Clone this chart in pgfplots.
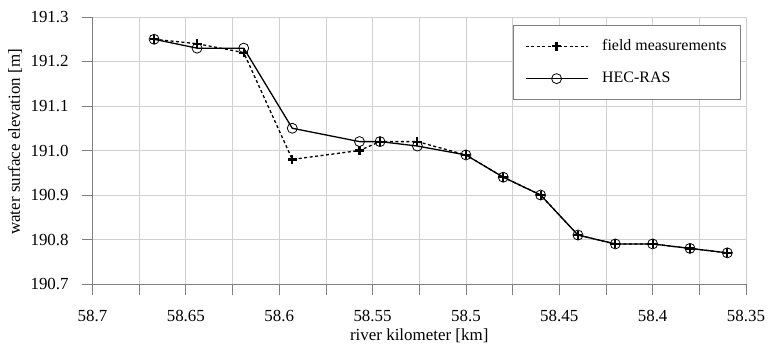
\documentclass[border=0pt]{standalone}
\usepackage{fontspec}
\setmainfont{Liberation Serif}
\usepackage{pgfplots}
\pgfplotsset{compat=1.18}
\definecolor{axgray}{HTML}{808080}
\definecolor{gridgray}{HTML}{D0D0D0}
\begin{document}
\fontsize{17}{20}\selectfont
\begin{tikzpicture}
\useasboundingbox (-92.5bp,-62bp) rectangle (675.5bp,284bp);
\begin{axis}[
  at={(0,0)}, anchor=south west,
  scale only axis, width=653.5bp, height=267bp,
  x dir=reverse,
  xmin=58.35, xmax=58.7, ymin=190.7, ymax=191.3,
  /pgf/number format/assume math mode=true,
  xtick={58.35,58.4,58.45,58.5,58.55,58.6,58.65,58.7},
  xticklabels={58.35,58.4,58.45,58.5,58.55,58.6,58.65,58.7},
  minor xtick={58.375,58.425,58.475,58.525,58.575,58.625,58.675},
  ytick={190.7,190.8,190.9,191.0,191.1,191.2,191.3},
  yticklabels={190.7,190.8,190.9,191.0,191.1,191.2,191.3},
  axis lines*=left,
  axis line style={axgray, line width=0.7pt},
  tick align=outside,
  major tick length=11bp, minor tick length=11bp,
  tick style={axgray, line width=0.7pt},
  grid=both,
  major grid style={gridgray, line width=0.7pt},
  minor grid style={gridgray, line width=0.7pt},
  ticklabel style={font=\fontsize{17}{20}\selectfont},
  xticklabel style={anchor=base, yshift=-27bp},
  yticklabel style={anchor=east, xshift=-7bp},
  xlabel={river kilometer [km]},
  ylabel={water surface elevation [m]},
  label style={font=\fontsize{17}{20}\selectfont},
  xlabel style={at={(axis description cs:0.5,-0.21)}, anchor=base},
  ylabel style={at={(axis description cs:-0.1186,0.532)}, anchor=center},
  legend style={at={(axis description cs:0.9923,0.97)}, anchor=north east,
    draw=axgray, line width=0.7pt, fill=white,
    font=\fontsize{16}{19}\selectfont,
    inner xsep=12bp, inner ysep=12bp,
    row sep=15bp,
    /tikz/every odd column/.append style={column sep=12bp}},
  legend cell align=left,
  legend image code/.code={%
    \draw[mark repeat=2,mark phase=2] plot coordinates {(0bp,0bp) (31bp,0bp) (62bp,0bp)};},
]
\addplot[black, line width=1.3bp, dash pattern=on 3bp off 2.5bp,
  mark=+, mark size=4.5bp, mark options={solid, line width=2.2bp}]
  coordinates {
  (58.667,191.25) (58.644,191.24) (58.619,191.22) (58.593,190.98)
  (58.557,191.00) (58.546,191.02) (58.526,191.02) (58.500,190.99)
  (58.480,190.94) (58.460,190.90) (58.440,190.81) (58.420,190.79)
  (58.400,190.79) (58.380,190.78) (58.360,190.77)};
\addlegendentry{field measurements}
\addplot[black, line width=1.3bp,
  mark=o, mark size=5bp, mark options={solid, line width=0.8bp}]
  coordinates {
  (58.667,191.25) (58.644,191.23) (58.619,191.23) (58.593,191.05)
  (58.557,191.02) (58.546,191.02) (58.526,191.01) (58.500,190.99)
  (58.480,190.94) (58.460,190.90) (58.440,190.81) (58.420,190.79)
  (58.400,190.79) (58.380,190.78) (58.360,190.77)};
\addlegendentry{HEC-RAS}
\end{axis}
\end{tikzpicture}
\end{document}
